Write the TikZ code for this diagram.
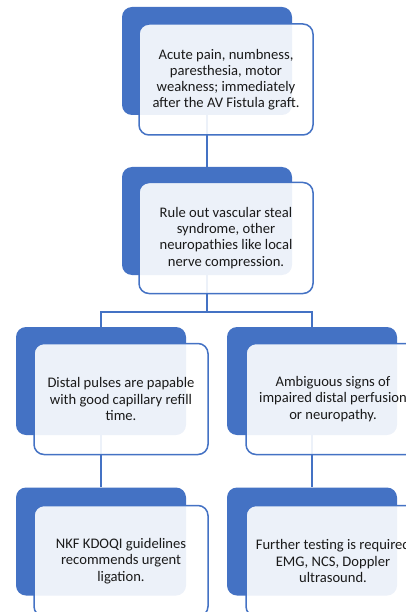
\documentclass[tikz,border=0pt]{standalone}
\usepackage{fontspec}
\setmainfont{Carlito}
\definecolor{obl}{HTML}{4472C4}
\definecolor{txt}{HTML}{1A1A1A}
\begin{document}
\begin{tikzpicture}[x=1pt,y=-1pt,
 back/.style={fill=obl, rounded corners=10pt, minimum width=170pt, minimum height=108pt, inner sep=0pt},
 front/.style={draw=obl, line width=1.5pt, fill=white, fill opacity=0.9, text opacity=1, rounded corners=10pt, minimum width=174pt, minimum height=111pt, align=center, font=\fontsize{14.6}{16.2}\selectfont, text=txt, inner sep=0pt},
 conn/.style={draw=obl, line width=1.5pt}]
\useasboundingbox (0,0) rectangle (406,612);
\clip (0,0) rectangle (406,612);
% back rectangles
\node[back] (b1) at (207,61) {};
\node[back] (b2) at (207,221) {};
\node[back] (b3) at (101,381) {};
\node[back] (b3r) at (312,381) {};
\node[back] (b4) at (101,541.5) {};
\node[back] (b4r) at (312,541.5) {};
% connectors
\draw[conn] (b1.south) -- (b2.north);
\draw[conn] (b2.south) -- ++(0,37) coordinate (j);
\draw[conn] (j) -| (b3.north);
\draw[conn] (j) -| (b3r.north);
\draw[conn] (b3.south) -- (b4.north);
\draw[conn] (b3r.south) -- (b4r.north);
% front boxes
\node[front] (f1) at (226,79.5) {Acute pain, numbness,\\paresthesia, motor\\weakness; immediately\\after the AV Fistula graft.};
\node[front] (f2) at (226,238) {Rule out vascular steal\\syndrome, other\\neuropathies like local\\nerve compression.};
\node[front] (f3) at (121,399) {Distal pulses are papable\\with good capillary refill\\time.};
\node[front] (f3r) at (333,399) {Ambiguous signs of\\impaired distal perfusion\\or neuropathy.};
\node[front] (f4) at (121,561) {NKF KDOQI guidelines\\recommends urgent\\ligation.};
\node[front] (f4r) at (333,561) {Further testing is required\\EMG, NCS, Doppler\\ultrasound.};
\end{tikzpicture}
\end{document}
